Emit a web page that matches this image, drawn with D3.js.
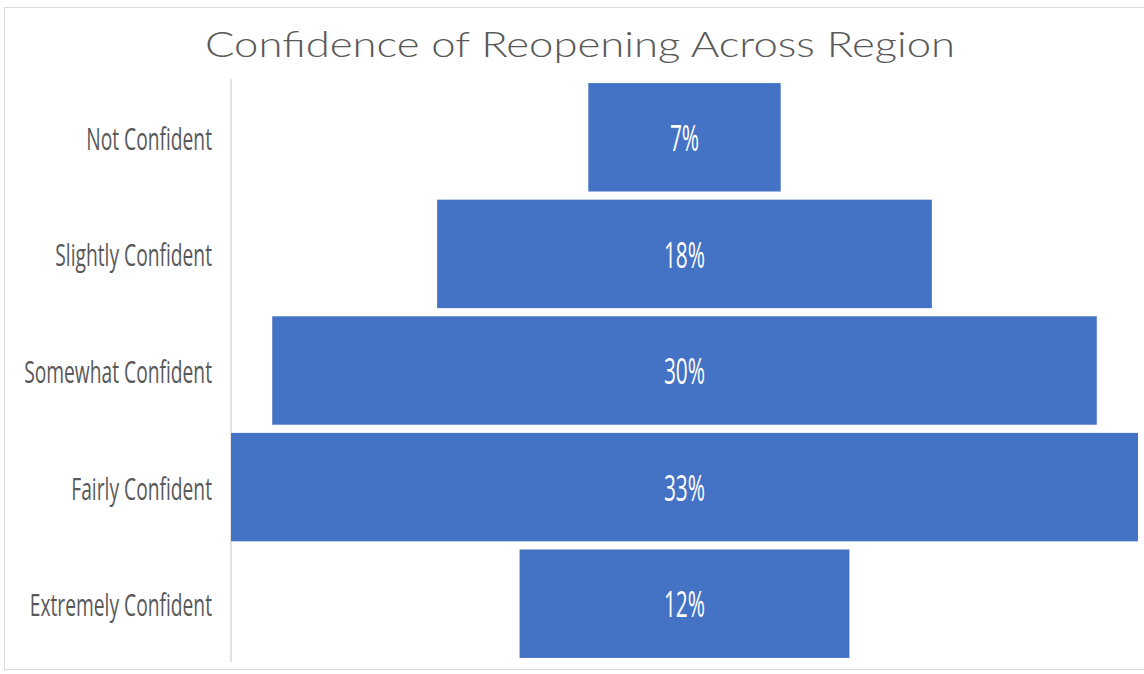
<!DOCTYPE html>
<html>
<head>
<meta charset="utf-8">
<script src="https://cdn.jsdelivr.net/npm/d3@7"></script>
<style>
  body { margin: 0; background: #fff; }
  svg { display: block; }
</style>
</head>
<body>
<svg id="chart" width="1144" height="674"></svg>
<script>
// funnel data
var categories = ["Not Confident", "Slightly Confident", "Somewhat Confident", "Fairly Confident", "Extremely Confident"];
var values = [7, 18, 30, 33, 12];
var valueLabels = ["7%", "18%", "30%", "33%", "12%"];

var svg = d3.select("#chart"),
    width = +svg.attr("width"),
    height = +svg.attr("height");

var axisX = 231, center = 684.5;

// squeeze text horizontally, the original uses a narrow font
function narrow(sel, k) {
    sel.each(function() {
        var len = this.getComputedTextLength();
        d3.select(this)
            .attr("textLength", len * k)
            .attr("lengthAdjust", "spacingAndGlyphs");
    });
}

// chart border
svg.append("rect")
    .attr("x", 4.5).attr("y", 7.5)
    .attr("width", width + 10).attr("height", 662)
    .attr("fill", "none")
    .attr("stroke", "#d9d9d9")
    .attr("stroke-width", 1);

svg.append("text")
    .attr("x", 580).attr("y", 57)
    .attr("text-anchor", "middle")
    .attr("font-family", "Lato, 'Noto Sans', sans-serif")
    .attr("font-weight", 300)
    .attr("font-size", 35)
    .attr("fill", "#595959")
    .attr("textLength", 750)
    .attr("lengthAdjust", "spacingAndGlyphs")
    .text("Confidence of Reopening Across Region");

var y = d3.scaleBand()
    .domain(categories)
    .range([79, 662])
    .paddingInner(0.07)
    .paddingOuter(0.035);

var w = d3.scaleLinear()
    .domain([0, d3.max(values)])
    .range([0, 1138 - axisX]);

// vertical axis line
svg.append("line")
    .attr("x1", axisX).attr("x2", axisX)
    .attr("y1", 79).attr("y2", 662)
    .attr("stroke", "#d9d9d9")
    .attr("stroke-width", 1.5);

var rows = svg.append("g").selectAll("g")
    .data(categories)
    .enter().append("g");

rows.append("rect")
    .attr("x", function(d, i) { return center - w(values[i]) / 2; })
    .attr("y", function(d) { return y(d); })
    .attr("width", function(d, i) { return w(values[i]); })
    .attr("height", y.bandwidth())
    .attr("fill", "#4472c4");

rows.append("text")
    .attr("x", center)
    .attr("y", function(d) { return y(d) + y.bandwidth() / 2; })
    .attr("dy", "0.38em")
    .attr("text-anchor", "middle")
    .attr("font-family", "'Open Sans', 'Noto Sans', sans-serif")
    .attr("font-size", 36)
    .attr("fill", "#ffffff")
    .text(function(d, i) { return valueLabels[i]; })
    .call(narrow, 0.58);

rows.append("text")
    .attr("x", 212)
    .attr("y", function(d) { return y(d) + y.bandwidth() / 2; })
    .attr("dy", "0.4em")
    .attr("text-anchor", "end")
    .attr("font-family", "'Open Sans', 'Noto Sans', sans-serif")
    .attr("font-size", 31)
    .attr("fill", "#595959")
    .text(function(d) { return d; })
    .call(narrow, 0.62);
</script>
</body>
</html>
